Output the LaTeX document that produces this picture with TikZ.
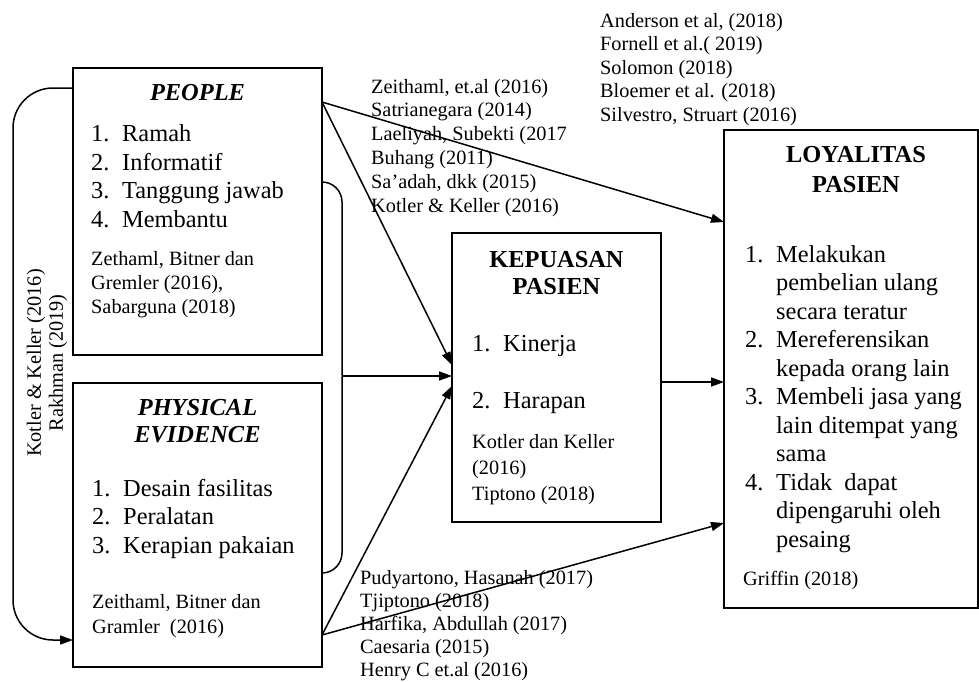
\documentclass[tikz,border=0pt]{standalone}
\usepackage{fontspec}
\setmainfont{Liberation Serif}
\usetikzlibrary{arrows.meta}
\newcommand{\itm}[2]{\makebox[31pt][l]{#1}#2}
\newcommand{\cont}[1]{\hspace*{31pt}#1}
\begin{document}
\begin{tikzpicture}[x=1pt,y=-1pt,
  box/.style={draw, line width=2.8pt, inner sep=0pt, outer sep=0pt, anchor=north west},
  big/.style={font=\fontsize{24.4}{28.4}\selectfont, inner sep=0pt, anchor=base west, align=left},
  small/.style={font=\fontsize{20.3}{23.8}\selectfont, inner sep=0pt, anchor=base west, align=left},
  ttl/.style={font=\fontsize{24.4}{27.5}\selectfont\bfseries, inner sep=0pt, anchor=base, align=center},
  conn/.style={line width=1.5pt},
  arr/.style={conn, -{Triangle[length=13pt,width=9pt]}}]
\useasboundingbox (0,0) rectangle (979,681);

% boxes
\node[box, minimum width=249pt, minimum height=287pt] (P) at (73,68) {};
\node[box, minimum width=249pt, minimum height=284pt] (PH) at (73,383) {};
\node[box, minimum width=209pt, minimum height=289pt] (K) at (452,233) {};
\node[box, minimum width=254pt, minimum height=478pt] (L) at (724,130) {};

% (multi-line nodes are placed by the baseline of their last line)
% PEOPLE
\node[ttl, font=\fontsize{24.4}{27.5}\selectfont\bfseries\itshape] (Pt) at (197.5,100) {PEOPLE};
\node[big] (Pi) at (91,227) {\itm{1.}{Ramah}\\\itm{2.}{Informatif}\\\itm{3.}{Tanggung jawab}\\\itm{4.}{Membantu}};
\node[small] (Pc) at (91,313) {Zethaml, Bitner dan\\Gremler (2016),\\Sabarguna (2018)};

% PHYSICAL EVIDENCE
\node[ttl, font=\fontsize{24.4}{27}\selectfont\bfseries\itshape] (PHt) at (197.5,442) {PHYSICAL\\EVIDENCE};
\node[big] (PHi) at (92,553) {\itm{1.}{Desain fasilitas}\\\itm{2.}{Peralatan}\\\itm{3.}{Kerapian pakaian}};
\node[small, font=\fontsize{20.3}{25}\selectfont] (PHc) at (92,633) {Zeithaml, Bitner dan\\Gramler\ \ (2016)};

% KEPUASAN
\node[ttl] (Kt) at (556.5,294.5) {KEPUASAN\\PASIEN};
\node[big] (Ki1) at (472,351) {\itm{1.}{Kinerja}};
\node[big] (Ki2) at (472,408) {\itm{2.}{Harapan}};
\node[small, font=\fontsize{20.3}{26}\selectfont] (Kc) at (472,500) {Kotler dan Keller\\(2016)\\Tiptono (2018)};

% LOYALITAS
\node[ttl, font=\fontsize{24.4}{30}\selectfont\bfseries] (Lt) at (856,192) {LOYALITAS\\PASIEN};
\node[big, font=\fontsize{24.4}{28.5}\selectfont] (Li) at (745,547) {\itm{1.}{Melakukan}\\\cont{pembelian ulang}\\\cont{secara teratur}\\\itm{2.}{Mereferensikan}\\\cont{kepada orang lain}\\\itm{3.}{Membeli jasa yang}\\\cont{lain ditempat yang}\\\cont{sama}\\\itm{4.}{Tidak\ \ dapat}\\\cont{dipengaruhi oleh}\\\cont{pesaing}};
\node[small] (Lc) at (743,585) {Griffin (2018)};

% reference lists
\node[small, font=\fontsize{20.3}{23.5}\selectfont] (R1) at (600,121) {Anderson et al, (2018)\\Fornell et al.( 2019)\\Solomon (2018)\\Bloemer et al. (2018)\\Silvestro, Struart (2016)};
\node[small] (R2) at (371,212) {Zeithaml, et.al (2016)\\Satrianegara (2014)\\Laeliyah, Subekti (2017\\Buhang (2011)\\Sa’adah, dkk (2015)\\Kotler \& Keller (2016)};
\node[small, font=\fontsize{20.3}{23}\selectfont] (R3) at (360,676) {Pudyartono, Hasanah (2017)\\Tjiptono (2018)\\Harfika, Abdullah (2017)\\Caesaria (2015)\\Henry C et.al (2016)};
\node[font=\fontsize{20.3}{22}\selectfont, rotate=90, align=center, inner sep=0pt] (R4) at (47,363) {Kotler \& Keller (2016)\\Rakhman (2019)};

% connectors
\draw[arr, rounded corners=40pt] ([yshift=-20pt]P.north west) -| ([xshift=-60pt,yshift=-115pt]PH.west) -- ([yshift=-115pt]PH.west);
\draw[conn, rounded corners=20pt] ([yshift=-114pt]P.north east) -- ([xshift=20pt,yshift=-114pt]P.north east) -- ([xshift=20pt,yshift=-190pt]PH.north east) -- ([yshift=-190pt]PH.north east);
\coordinate (bm) at (342,376);
\draw[arr] (bm) -- ([yshift=1.5pt]K.west);
\draw[arr] ([yshift=-34pt]P.north east) -- ([yshift=12.5pt]K.west);
\draw[arr] ([yshift=-34pt]P.north east) -- ([yshift=147pt]L.west);
\draw[arr] ([yshift=-110pt]PH.east) -- ([yshift=-8.5pt]K.west);
\draw[arr] ([yshift=-110pt]PH.east) -- ([yshift=-154pt]L.west);
\draw[arr] ([yshift=-4.5pt]K.east) -- ([yshift=-13pt]L.west);
\end{tikzpicture}
\end{document}
